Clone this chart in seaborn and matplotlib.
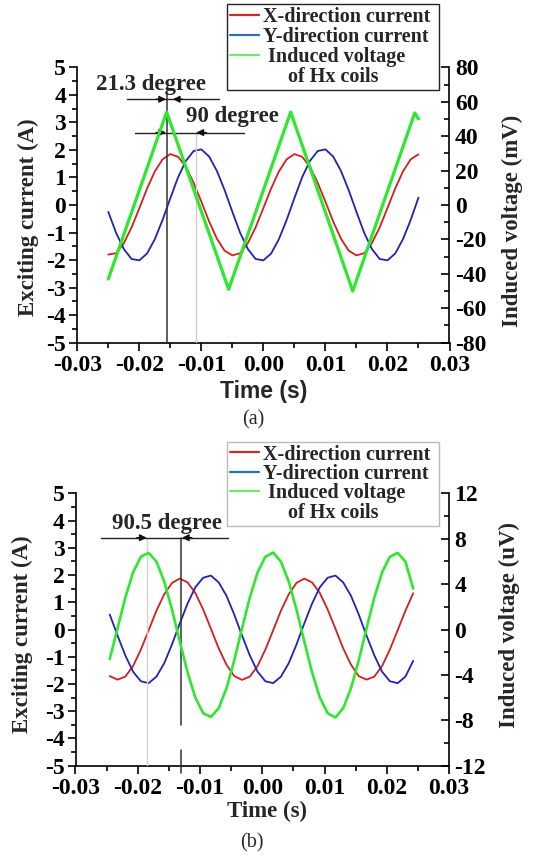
import matplotlib
matplotlib.use("Agg")
import matplotlib.pyplot as plt
from matplotlib.lines import Line2D
from matplotlib.ticker import MultipleLocator, FormatStrFormatter
import seaborn as sns

sns.set_style("ticks")
plt.rcParams['font.family'] = ['Liberation Serif', 'DejaVu Serif']
plt.rcParams['font.weight'] = 'bold'
plt.rcParams['axes.unicode_minus'] = False

# ---------------- panel (a) ----------------
time_a = [-0.025, -0.02375, -0.0225, -0.02125, -0.02, -0.01875, -0.0175, -0.01625,
          -0.015, -0.01375, -0.0125, -0.01125, -0.01, -0.00875, -0.0075, -0.00625,
          -0.005, -0.00375, -0.0025, -0.00125, 0.0, 0.00125, 0.0025, 0.00375,
          0.005, 0.00625, 0.0075, 0.00875, 0.01, 0.01125, 0.0125, 0.01375,
          0.015, 0.01625, 0.0175, 0.01875, 0.02, 0.02125, 0.0225, 0.02375, 0.025]
x_current_a = [-1.80, -1.75, -1.39, -0.81, -0.12, 0.60, 1.22, 1.66, 1.85, 1.75, 1.39, 0.81,
               0.12, -0.60, -1.22, -1.66, -1.83, -1.75, -1.38, -0.81, -0.11, 0.60, 1.22, 1.66,
               1.85, 1.75, 1.39, 0.81, 0.12, -0.60, -1.22, -1.66, -1.83, -1.75, -1.38, -0.81,
               -0.11, 0.60, 1.22, 1.66, 1.84]
y_current_a = [-0.25, -1.01, -1.60, -1.96, -2.01, -1.76, -1.24, -0.54, 0.25, 1.01, 1.60, 1.96,
               2.02, 1.76, 1.24, 0.54, -0.25, -1.01, -1.60, -1.96, -2.01, -1.76, -1.24, -0.54,
               0.25, 1.01, 1.60, 1.96, 2.02, 1.76, 1.24, 0.54, -0.25, -1.01, -1.60, -1.96,
               -2.01, -1.76, -1.24, -0.54, 0.27]
time_hx_a = [-0.025, -0.0156, -0.0056, 0.0044, 0.0144, 0.0244, 0.025]
hx_voltage_a = [-43.0, 54.0, -49.0, 54.0, -50.0, 53.5, 50.0]          # mV

# ---------------- panel (b) ----------------
time_b = [-0.0245, -0.02325, -0.022, -0.02075, -0.0195, -0.01825, -0.017, -0.01575,
          -0.0145, -0.01325, -0.012, -0.01075, -0.0095, -0.00825, -0.007, -0.00575,
          -0.0045, -0.00325, -0.002, -0.00075, 0.0005, 0.00175, 0.003, 0.00425,
          0.0055, 0.00675, 0.008, 0.00925, 0.0105, 0.01175, 0.013, 0.01425,
          0.0155, 0.01675, 0.018, 0.01925, 0.0205, 0.02175, 0.023, 0.02425]
x_current_b = [-1.71, -1.84, -1.73, -1.34, -0.74, -0.03, 0.69, 1.29, 1.71, 1.87, 1.73, 1.34,
               0.74, 0.03, -0.69, -1.29, -1.71, -1.85, -1.73, -1.34, -0.74, -0.03, 0.69, 1.29,
               1.71, 1.87, 1.73, 1.34, 0.74, 0.03, -0.69, -1.29, -1.71, -1.84, -1.73, -1.34,
               -0.74, -0.03, 0.69, 1.33]
y_current_b = [0.55, -0.22, -0.95, -1.55, -1.90, -1.97, -1.73, -1.24, -0.55, 0.22, 0.95, 1.55,
               1.90, 1.98, 1.73, 1.24, 0.55, -0.22, -0.95, -1.55, -1.90, -1.97, -1.73, -1.24,
               -0.55, 0.22, 0.95, 1.55, 1.90, 1.98, 1.73, 1.24, 0.55, -0.22, -0.95, -1.55,
               -1.90, -1.97, -1.73, -1.15]
hx_voltage_b = [-2.60, 0.09, 2.81, 5.03, 6.41, 6.75, 5.98, 4.23, 1.76, -1.05, -3.77, -5.99,
                -7.37, -7.71, -6.94, -5.19, -2.72, 0.09, 2.81, 5.03, 6.41, 6.78, 5.98, 4.23,
                1.76, -1.05, -3.77, -5.99, -7.37, -7.75, -6.94, -5.19, -2.72, 0.09, 2.81, 5.03,
                6.41, 6.75, 5.98, 3.60]                                   # uV

# ---------------- axes ticks / labels ----------------
time_ticks = [-0.03, -0.02, -0.01, 0.00, 0.01, 0.02, 0.03]
current_ticks = [-5, -4, -3, -2, -1, 0, 1, 2, 3, 4, 5]
voltage_ticks_a = [-80, -60, -40, -20, 0, 20, 40, 60, 80]
voltage_ticks_b = [-12, -8, -4, 0, 4, 8, 12]
legend_labels = ['X-direction current ', 'Y-direction current ', ' Induced voltage', '     of Hx coils']

RED, BLUE, GREEN = '#d21f1f', '#2222b8', '#2ee82e'
LEG_RED, LEG_BLUE, LEG_GREEN = '#cc2a2a', '#2f6fb3', '#6ee86e'

W, H = 538, 859
fig = plt.figure(figsize=(W / 100, H / 100), dpi=100)


def px(x, y):
    return x / W, 1 - y / H


def style_axes(ax, ax2, vticks, vminor):
    ax.set_xlim(-0.03, 0.03)
    ax.set_ylim(-5, 5)
    ax.set_xticks(time_ticks)
    ax.xaxis.set_minor_locator(MultipleLocator(0.005))
    ax.xaxis.set_major_formatter(FormatStrFormatter('%.2f'))
    ax.set_yticks(current_ticks)
    ax.yaxis.set_minor_locator(MultipleLocator(0.5))
    ax.tick_params(which='both', direction='out', width=1.2, colors='black',
                   labelsize=17, pad=2, right=False, top=False)
    ax.tick_params(which='major', length=6)
    ax.tick_params(which='minor', length=3.5)
    ax.tick_params(axis='x', pad=3)
    for s in ('top', 'right'):
        ax.spines[s].set_visible(False)
    for s in ('left', 'bottom'):
        ax.spines[s].set_linewidth(1.2)
        ax.spines[s].set_color('black')
    ax.set_xlabel('')
    ax.set_ylabel('')

    ax2.set_ylim(vticks[0], vticks[-1])
    ax2.set_yticks(vticks)
    ax2.yaxis.set_minor_locator(MultipleLocator(vminor))
    ax2.tick_params(which='both', direction='in', width=1.2, colors='black',
                    labelsize=17, pad=4)
    ax2.tick_params(which='major', length=6)
    ax2.tick_params(which='minor', length=3.5)
    for s in ('top', 'left', 'bottom'):
        ax2.spines[s].set_visible(False)
    ax2.spines['right'].set_linewidth(1.2)
    ax2.spines['right'].set_color('black')
    ax2.set_ylabel('')


def bracket(ax, y, x0, x1, tip_right, tip_left):
    ax.plot([x0, x1], [y, y], color='#222222', lw=1.0, zorder=4)
    arrow = dict(arrowstyle='-|>', color='#111111', lw=1.0, mutation_scale=10,
                 shrinkA=0, shrinkB=0)
    ax.annotate('', xy=(tip_right, y), xytext=(tip_right - 0.0016, y), arrowprops=arrow, zorder=5)
    ax.annotate('', xy=(tip_left, y), xytext=(tip_left + 0.0016, y), arrowprops=arrow, zorder=5)


def add_legend(anchor, spacing, edge, size):
    handles = [Line2D([], [], color=LEG_RED, lw=1.6),
               Line2D([], [], color=LEG_BLUE, lw=1.6),
               Line2D([], [], color=LEG_GREEN, lw=1.6),
               Line2D([], [], color='none')]
    leg = fig.legend(handles, legend_labels, loc='upper left', bbox_to_anchor=anchor,
                     bbox_transform=fig.transFigure, frameon=True, fancybox=False,
                     framealpha=1, edgecolor=edge, fontsize=size, handlelength=1.45,
                     handletextpad=0.2, borderpad=0.15, labelspacing=spacing,
                     borderaxespad=0)
    leg.get_frame().set_linewidth(1.0)
    return leg


# ================= panel (a) =================
ax_a = fig.add_axes([77.3 / W, 1 - 342.7 / H, 372.2 / W, 275.4 / H])
ax_a2 = ax_a.twinx()
sns.lineplot(x=time_a, y=x_current_a, ax=ax_a, color=RED, lw=1.3, sort=False)
sns.lineplot(x=time_a, y=y_current_a, ax=ax_a, color=BLUE, lw=1.3, sort=False)
sns.lineplot(x=time_hx_a, y=hx_voltage_a, ax=ax_a2, color=GREEN, lw=2.3, sort=False)
style_axes(ax_a, ax_a2, voltage_ticks_a, 10)

ax_a.plot([-0.0156, -0.0156], [4.07, -5], color='#333333', lw=1.1, zorder=3)
ax_a.plot([-0.0108, -0.0108], [2.65, -5], color='#cfcfcf', lw=1.0, zorder=3)
bracket(ax_a, 3.84, -0.0220, -0.0071, -0.0157, -0.0146)
bracket(ax_a, 2.63, -0.0207, -0.0032, -0.0157, -0.0108)
ax_a.text(-0.0181, 4.36, '21.3 degree', ha='center', va='center', fontsize=16.5)
ax_a.text(-0.0050, 3.21, '90 degree', ha='center', va='center', fontsize=16.5)

fig.text(*px(28.3, 217), 'Exciting current (A)', rotation=90, ha='center', va='center', fontsize=16.5)
fig.text(*px(512, 221), 'Induced voltage (mV)', rotation=90, ha='center', va='center', fontsize=16.5)
fig.text(*px(263.4, 392), 'Time (s)', ha='center', va='center', fontsize=16.5,
         family=['Liberation Sans', 'DejaVu Sans'], fontweight='bold')
fig.text(*px(253, 420), '(a)', ha='center', va='center', fontsize=14.5, fontweight='normal')
add_legend(px(227, 4), 0.0, '#222222', 14.5)

# ================= panel (b) =================
ax_b = fig.add_axes([75.5 / W, 1 - 765.7 / H, 373.5 / W, 272.4 / H])
ax_b2 = ax_b.twinx()
sns.lineplot(x=time_b, y=x_current_b, ax=ax_b, color=RED, lw=1.3, sort=False)
sns.lineplot(x=time_b, y=y_current_b, ax=ax_b, color=BLUE, lw=1.3, sort=False)
sns.lineplot(x=time_b, y=hx_voltage_b, ax=ax_b2, color=GREEN, lw=1.9, sort=False)
style_axes(ax_b, ax_b2, voltage_ticks_b, 2)

ax_b.plot([-0.01857, -0.01857], [3.37, -5], color='#d4d4d4', lw=1.0, zorder=3)
ax_b.plot([-0.0131, -0.0131], [3.37, -3.51], color='#333333', lw=1.1, zorder=3)
ax_b.plot([-0.0131, -0.0131], [-4.42, -5.27], color='#333333', lw=1.1, zorder=3, clip_on=False)
bracket(ax_b, 3.37, -0.02588, -0.00555, -0.01857, -0.0129)
ax_b.text(-0.0153, 3.9, '90.5 degree', ha='center', va='center', fontsize=16.5)

fig.text(*px(22, 634), 'Exciting current (A)', rotation=90, ha='center', va='center', fontsize=16.5)
fig.text(*px(509.5, 624.5), 'Induced voltage (uV)', rotation=90, ha='center', va='center', fontsize=16.5)
fig.text(*px(266.8, 811.7), 'Time (s)', ha='center', va='center', fontsize=16.5)
fig.text(*px(252, 842.7), '(b)', ha='center', va='center', fontsize=14.5, fontweight='normal')
add_legend(px(227, 441.5), -0.03, '#bbbbbb', 14.5)

fig.savefig('out.png', dpi=100)
